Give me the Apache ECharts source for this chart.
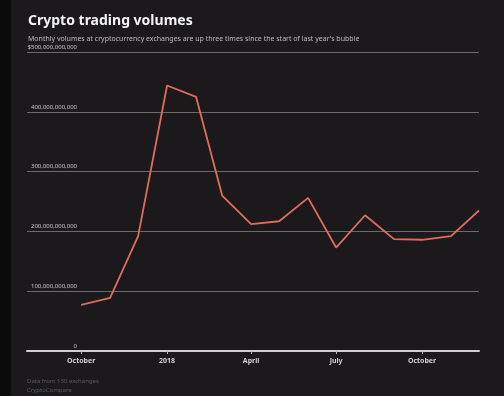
<!DOCTYPE html>
<html>
<head>
<meta charset="utf-8">
<script src="https://cdn.jsdelivr.net/npm/echarts@6/dist/echarts.min.js"></script>
<style>
  html, body { margin: 0; padding: 0; background: #1b191c; }
  #chart { width: 504px; height: 396px; }
</style>
</head>
<body>
<div id="chart"></div>
<script>
// monthly volumes, Oct 2017 - Dec 2018 (USD)
var months = ['2017-10', '2017-11', '2017-12', '2018-01', '2018-02', '2018-03', '2018-04',
  '2018-05', '2018-06', '2018-07', '2018-08', '2018-09', '2018-10', '2018-11', '2018-12'];
var volumes = [77e9, 89e9, 192e9, 444e9, 425e9, 260e9, 212e9,
  217e9, 256e9, 173e9, 227e9, 187e9, 186e9, 192e9, 235e9];

var tickDates = ['2017-10', '2018-01', '2018-04', '2018-07', '2018-10'];
var tickLabels = ['October', '2018', 'April', 'July', 'October'];
var yTickLabels = ['0', '100,000,000,000', '200,000,000,000', '300,000,000,000',
  '400,000,000,000', '$500,000,000,000'];

var DAY = 86400000;
var origin = Date.UTC(2017, 9, 1);

// days since 1 Oct 2017
function toDay(m) {
  var p = m.split('-');
  return Math.round((Date.UTC(+p[0], +p[1] - 1, 1) - origin) / DAY);
}

var tickDays = tickDates.map(toDay);
var seriesData = months.map(function (m, i) { return [toDay(m), volumes[i]]; });

var chart = echarts.init(document.getElementById('chart'));
chart.setOption({
  backgroundColor: '#1b191c',
  animation: false,
  textStyle: { fontFamily: 'Noto Sans' },
  title: {
    text: 'Crypto trading volumes',
    subtext: "Monthly volumes at cryptocurrency exchanges are up three times since the start of last year's bubble",
    left: 23,
    top: 9,
    itemGap: 7,
    textStyle: { color: '#f4f4f4', fontSize: 14, fontWeight: 'bold' },
    subtextStyle: { color: '#bdbdbd', fontSize: 7 }
  },
  graphic: [
    { type: 'rect', left: 0, top: 0, shape: { width: 11, height: 396 }, style: { fill: '#0c0b0c' } },
    { type: 'text', left: 27, top: 378, style: { text: 'Data from 130 exchanges', fill: '#5a5a5a', font: '6px Noto Sans' } },
    { type: 'text', left: 27, top: 387, style: { text: 'CryptoCompare', fill: '#5a5a5a', font: '6px Noto Sans' } }
  ],
  grid: { left: 27, right: 25, top: 52, bottom: 45 },
  xAxis: {
    type: 'value',
    min: -58,
    max: toDay('2018-12'),
    splitLine: { show: false },
    axisLine: { lineStyle: { color: '#d0d0d0', width: 2 } },
    axisTick: { show: true, length: 3, customValues: tickDays, lineStyle: { color: '#bbbbbb' } },
    axisLabel: {
      customValues: tickDays,
      margin: 6,
      color: '#cfcfcf',
      fontSize: 7,
      fontWeight: 'bold',
      formatter: function (v) {
        var i = tickDays.indexOf(v);
        return i >= 0 ? tickLabels[i] : '';
      }
    }
  },
  yAxis: {
    type: 'value',
    min: 0,
    max: 500e9,
    interval: 100e9,
    axisLine: { show: false },
    axisTick: { show: false },
    splitLine: { lineStyle: { color: '#6a6a6a', width: 1 } },
    axisLabel: {
      inside: true,
      margin: 50,
      align: 'right',
      verticalAlign: 'bottom',
      padding: [0, 0, 2, 0],
      color: '#c8c8c8',
      fontSize: 6,
      formatter: function (v) {
        return yTickLabels[Math.round(v / 100e9)];
      }
    }
  },
  series: [{
    type: 'line',
    data: seriesData,
    showSymbol: false,
    lineStyle: { color: '#e06c5d', width: 1.8 }
  }]
});
</script>
</body>
</html>
